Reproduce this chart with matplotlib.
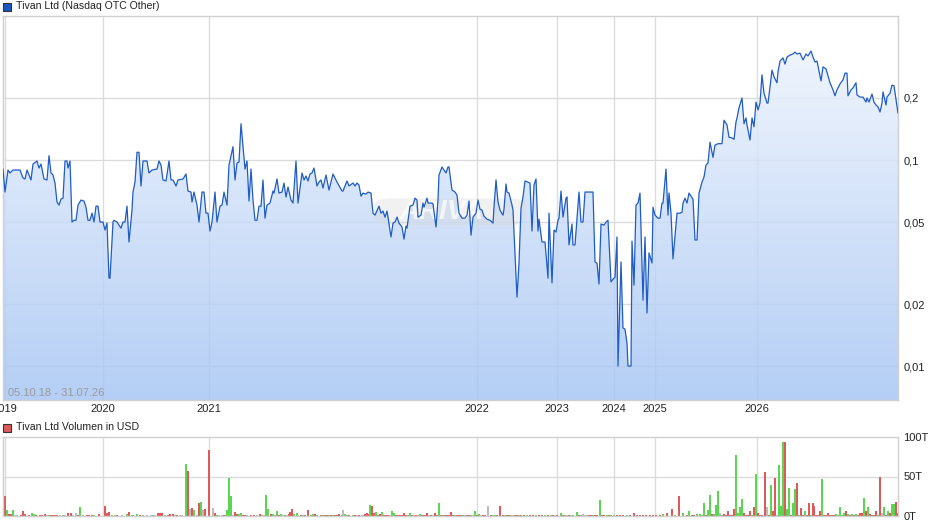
import numpy as np
import matplotlib
matplotlib.use("Agg")
import matplotlib.pyplot as plt
from matplotlib.colors import LinearSegmentedColormap
from matplotlib.patches import Rectangle, FancyBboxPatch

plt.rcParams['font.family'] = ['Liberation Sans', 'DejaVu Sans']

# price series: trading session index and closing price (USD)
session = [3, 5, 8, 10, 13, 20, 23, 25, 27, 31, 33, 37, 39, 41, 44, 47, 49, 51, 53, 55,
           57, 59, 61, 63, 65, 67, 68, 70, 72, 74, 76, 78, 81, 84, 86, 88, 90, 92, 94, 96,
           98, 100, 103, 105, 107, 109, 110, 113, 114, 117, 121, 123, 125, 127, 129, 132, 133, 135, 137, 139,
           141, 143, 147, 149, 152, 157, 159, 161, 163, 166, 169, 171, 173, 176, 178, 183, 186, 188, 191, 192,
           194, 197, 199, 202, 204, 206, 208, 210, 212, 215, 217, 220, 222, 224, 227, 229, 233, 235, 237, 239,
           241, 245, 247, 249, 251, 253, 255, 257, 259, 261, 263, 265, 267, 270, 273, 274, 277, 279, 282, 284,
           286, 288, 291, 293, 296, 298, 302, 304, 306, 308, 310, 312, 314, 317, 319, 321, 323, 326, 329, 333,
           337, 342, 343, 347, 349, 353, 355, 357, 359, 361, 363, 366, 368, 371, 373, 375, 379, 381, 383, 385,
           387, 388, 391, 393, 395, 397, 399, 402, 404, 406, 407, 410, 413, 415, 417, 418, 421, 423, 424, 427,
           428, 432, 433, 436, 438, 439, 442, 444, 446, 448, 449, 452, 455, 457, 459, 462, 465, 467, 469, 471,
           473, 476, 478, 480, 482, 484, 487, 490, 493, 494, 496, 498, 500, 503, 504, 506, 507, 509, 512, 513,
           517, 519, 521, 523, 525, 530, 532, 534, 536, 538, 539, 542, 545, 548, 549, 552, 554, 556, 558, 559,
           561, 563, 566, 567, 569, 572, 573, 575, 579, 581, 583, 585, 593, 595, 597, 599, 601, 604, 606, 608,
           611, 613, 615, 617, 618, 621, 623, 625, 627, 628, 631, 632, 634, 636, 638, 640, 643, 645, 647, 649,
           652, 653, 655, 658, 660, 662, 663, 666, 668, 669, 671, 673, 677, 680, 682, 683, 685, 687, 689, 693,
           695, 697, 699, 702, 704, 706, 708, 710, 713, 715, 718, 722, 724, 727, 729, 732, 734, 736, 737, 739,
           742, 744, 746, 747, 750, 752, 754, 756, 758, 760, 762, 764, 767, 768, 770, 772, 774, 777, 778, 780,
           783, 785, 787, 790, 793, 795, 797, 800, 803, 806, 808, 811, 813, 815, 817, 821, 823, 826, 828, 830,
           833, 835, 837, 840, 843, 845, 847, 848, 851, 853, 856, 857, 860, 863, 866, 867, 869, 872, 874, 876,
           878, 880, 882, 883, 886, 887, 890, 892, 894, 898]
price = [0.0904, 0.0699, 0.0894, 0.0865, 0.0894, 0.0894, 0.0818, 0.0809, 0.0894, 0.0800,
         0.0956, 0.0989, 0.0914, 0.0956, 0.0809, 0.0800, 0.105, 0.0865, 0.0846, 0.0773,
         0.0625, 0.0604, 0.0646, 0.0653, 0.0989, 0.0989, 0.0914, 0.0989, 0.0500, 0.0510,
         0.0510, 0.0604, 0.0639, 0.0632, 0.0590, 0.0510, 0.0510, 0.0552, 0.0500, 0.0597,
         0.0597, 0.0500, 0.0500, 0.0457, 0.0494, 0.0267, 0.0267, 0.0500, 0.0510, 0.0500,
         0.0467, 0.0500, 0.0500, 0.0597, 0.0400, 0.0571, 0.0699, 0.0782, 0.109, 0.109,
         0.0748, 0.0989, 0.0989, 0.0865, 0.0894, 0.0904, 0.0989, 0.0945, 0.0800, 0.0791,
         0.0989, 0.0800, 0.0800, 0.0748, 0.0800, 0.0809, 0.0855, 0.0707, 0.0699, 0.0625,
         0.0699, 0.0604, 0.0500, 0.0699, 0.0699, 0.0552, 0.0552, 0.0452, 0.0500, 0.0699,
         0.0500, 0.0597, 0.0604, 0.0699, 0.0604, 0.0945, 0.116, 0.0800, 0.0967, 0.0978,
         0.150, 0.0904, 0.0989, 0.0632, 0.0904, 0.0639, 0.0510, 0.0510, 0.0597, 0.0597,
         0.0800, 0.0522, 0.0604, 0.0618, 0.0707, 0.0691, 0.0809, 0.0691, 0.0699, 0.0773,
         0.0661, 0.0740, 0.0639, 0.0618, 0.0989, 0.0618, 0.0865, 0.0800, 0.0836, 0.0791,
         0.0855, 0.0865, 0.0914, 0.0748, 0.0782, 0.0800, 0.0731, 0.0846, 0.0715, 0.0855,
         0.0782, 0.0707, 0.0707, 0.0791, 0.0748, 0.0773, 0.0748, 0.0773, 0.0756, 0.0668,
         0.0691, 0.0683, 0.0699, 0.0691, 0.0552, 0.0540, 0.0597, 0.0552, 0.0565, 0.0528,
         0.0565, 0.0528, 0.0423, 0.0494, 0.0500, 0.0528, 0.0494, 0.0473, 0.0413, 0.0478,
         0.0467, 0.0597, 0.0604, 0.0653, 0.0639, 0.0528, 0.0540, 0.0618, 0.0590, 0.0653,
         0.0618, 0.0618, 0.0611, 0.0473, 0.0639, 0.0846, 0.0925, 0.0894, 0.0865, 0.0925,
         0.0925, 0.0715, 0.0699, 0.0676, 0.0552, 0.0522, 0.0522, 0.0540, 0.0632, 0.0432,
         0.0528, 0.0552, 0.0639, 0.0577, 0.0571, 0.0534, 0.0516, 0.0510, 0.0494, 0.0590,
         0.0800, 0.0625, 0.0571, 0.0540, 0.0577, 0.0765, 0.0699, 0.0691, 0.0604, 0.0571,
         0.0216, 0.0316, 0.0584, 0.0661, 0.0791, 0.0773, 0.0452, 0.0756, 0.0809, 0.0452,
         0.0516, 0.0400, 0.0400, 0.0267, 0.0552, 0.0253, 0.0457, 0.0447, 0.0510, 0.0522,
         0.0707, 0.0528, 0.0653, 0.0661, 0.0387, 0.0489, 0.0387, 0.0387, 0.0699, 0.0500,
         0.0500, 0.0699, 0.0699, 0.0320, 0.0316, 0.0250, 0.0489, 0.0483, 0.0500, 0.0510,
         0.0256, 0.0264, 0.0270, 0.0423, 0.0100, 0.0320, 0.0153, 0.0151, 0.0129, 0.0100,
         0.0100, 0.0404, 0.0247, 0.0604, 0.0618, 0.0691, 0.0209, 0.0423, 0.0181, 0.0354,
         0.0316, 0.0590, 0.0540, 0.0522, 0.0522, 0.0618, 0.0618, 0.0904, 0.0540, 0.0691,
         0.0552, 0.0331, 0.0552, 0.0552, 0.0558, 0.0618, 0.0653, 0.0618, 0.0691, 0.0646,
         0.0409, 0.0409, 0.0691, 0.0782, 0.0827, 0.0945, 0.0967, 0.122, 0.103, 0.118,
         0.120, 0.120, 0.156, 0.148, 0.129, 0.128, 0.126, 0.153, 0.160, 0.179,
         0.200, 0.150, 0.160, 0.148, 0.125, 0.160, 0.145, 0.191, 0.175, 0.189,
         0.259, 0.211, 0.189, 0.189, 0.226, 0.273, 0.253, 0.237, 0.267, 0.302,
         0.313, 0.292, 0.316, 0.323, 0.327, 0.334, 0.327, 0.330, 0.306, 0.327,
         0.320, 0.338, 0.316, 0.299, 0.302, 0.242, 0.283, 0.277, 0.256, 0.237,
         0.219, 0.205, 0.219, 0.234, 0.245, 0.264, 0.264, 0.205, 0.219, 0.224,
         0.237, 0.207, 0.202, 0.202, 0.191, 0.200, 0.191, 0.209, 0.191, 0.185,
         0.181, 0.171, 0.189, 0.214, 0.185, 0.202, 0.211, 0.231, 0.229, 0.169]

# axis labels
year_sessions = [5, 103, 209, 477, 557, 614, 655, 757]
year_labels = ['2019', '2020', '2021', '2022', '2023', '2024', '2025', '2026']
price_ticks = [0.01, 0.02, 0.05, 0.1, 0.2]
price_labels = ['0,01', '0,02', '0,05', '0,1', '0,2']
vol_ticks = [0, 50, 100]
vol_labels = ['0T', '50T', '100T']

# volume in thousand USD, split by day direction
green_day = [7, 13, 32, 34, 49, 63, 80, 94, 112, 127, 132, 133, 137, 143, 153, 165, 186, 194, 201, 217,
             226, 227, 229, 231, 239, 241, 262, 266, 268, 273, 277, 281, 285, 294, 297, 303, 311, 313, 317,
             323, 329, 333, 345, 347, 353, 362, 370, 376, 382, 392, 394, 408, 410, 420, 426, 439, 443, 455,
             463, 471, 475, 479, 493, 495, 505, 511, 519, 527, 536, 545, 551, 561, 565, 573, 577, 581, 593,
             600, 607, 611, 614, 627, 663, 675, 683, 689, 697, 700, 702, 704, 708, 710, 714, 716, 718, 722,
             736, 738, 740, 742, 752, 756, 771, 779, 781, 783, 787, 789, 793, 795, 799, 805, 811, 822, 836,
             838, 840, 842, 844, 848, 852, 856, 864, 868, 878, 884, 888, 892, 894]
green_vol = [7.6, 7.6, 4.2, 2, 1.7, 1.3, 11.4, 1.7, 1.7, 2.5, 1.3, 1.7, 2.5, 1, 1.7, 1.7, 65.8, 7.6, 17.7, 1.7,
             1, 7.6, 48.1, 25.3, 2.5, 3.4, 1.7, 26.6, 9.3, 2.5, 6.3, 2.5, 1, 2.5, 3.8, 1, 1.7, 3, 1.3,
             1, 1, 1, 2.1, 1.7, 1.7, 1, 13.5, 4.6, 4.6, 5.9, 3.4, 1, 3.4, 2.1, 1, 16, 1, 1.7,
             1, 1, 5.9, 2.5, 1, 1, 1, 1, 1.7, 1, 1, 1.7, 1, 3.4, 1.7, 1, 4.6, 1, 1,
             20.3, 1, 1, 1.7, 1, 2.5, 1.7, 4.2, 5.9, 2.5, 2.5, 1.7, 16, 7.6, 26.2, 2.1, 13.5, 31.2, 1.7,
             77.6, 3.4, 11, 21.1, 1.7, 52.7, 39.7, 65, 12.7, 93.7, 8.4, 35, 16.9, 33.8, 1.7, 5.9, 1.7, 47.3, 2.5,
             1.7, 11.8, 1.7, 4.2, 2.5, 2.5, 2.5, 22.4, 11, 1.7, 11, 5.9, 15.6, 15.6]
red_day = [5, 9, 11, 21, 23, 25, 29, 36, 40, 42, 45, 51, 53, 55, 57, 68, 71, 78, 87, 89,
           92, 99, 105, 107, 109, 117, 129, 140, 158, 160, 162, 168, 170, 173, 177, 188, 192, 199, 205, 209,
           215, 224, 235, 237, 243, 245, 251, 254, 260, 271, 279, 289, 290, 292, 301, 305, 308, 315,
           321, 325, 327, 331, 335, 337, 339, 342, 349, 355, 359, 365, 367, 368, 372, 374, 378, 380, 384, 386,
           388, 396, 398, 400, 402, 404, 406, 412, 416, 422, 424, 427, 431, 435, 437, 441, 445, 447, 449, 451,
           453, 457, 459, 461, 467, 469, 477, 483, 485, 491, 497, 500, 503, 507, 509, 515, 517, 521, 524, 530,
           533, 539, 542, 548, 553, 557, 563, 569, 579, 589, 591, 595, 597, 602, 604, 609, 617, 620, 623, 630,
           634, 637, 640, 643, 646, 650, 653, 656, 660, 667, 672, 679, 687, 692, 694, 706, 712, 724, 726, 728,
           730, 732, 734, 744, 746, 748, 750, 754, 758, 760, 762, 765, 769, 773, 775, 785, 791, 797, 801, 803,
           807, 809, 813, 814, 816, 818, 820, 824, 826, 828, 830, 832, 834, 846, 850, 854, 858, 860, 862, 866,
           870, 872, 874, 876, 880, 886, 890, 896, 897]
red_vol = [25, 2.5, 3, 1.5, 6.3, 2.5, 1.3, 1.3, 1.3, 1.3, 2, 1.7, 1.3, 1.3, 1.7, 4.2, 3.4, 1.7, 1, 1,
           1.7, 2.5, 12.7, 3.4, 5, 1.3, 5, 1.3, 3.4, 3.4, 3.4, 1.3, 2.5, 2.1, 1.3, 57, 10, 16, 8.9, 83.5,
           3.4, 1.3, 5, 2.5, 1.3, 1, 1.7, 1, 2.1, 2.5, 1.3, 2.5, 5.5, 8.9, 1.7, 1.3, 7.6, 2.1,
           1, 1, 1, 1, 1, 1, 2.1, 1, 1, 1, 1, 3, 3.4, 2.1, 12.2, 3.4, 1, 2.5, 1.7, 1,
           1, 1, 1, 1, 1, 3.4, 1, 1, 1, 1, 1.7, 3.4, 1, 3.4, 1, 1.7, 1.7, 1.7, 1, 4.6,
           1, 1, 1, 1.7, 1, 1, 1, 1, 1, 1, 1, 12.2, 1, 1, 1.7, 1, 1, 1, 1, 1,
           1, 1, 1.7, 1, 1.7, 1, 1, 1, 1.7, 1, 1, 1.7, 1, 1, 1.7, 1, 1, 1, 1, 1,
           3.4, 1, 1, 1, 1, 1, 1, 1, 1.7, 3.4, 8.4, 24.9, 1.7, 1.7, 1, 1, 2.1, 2.5, 1.7, 5.9,
           1.7, 1.7, 8.4, 3.4, 1.7, 1.7, 5.9, 11.8, 3.4, 1.7, 1, 56, 1.7, 6.3, 48.1, 93.7, 1.7, 42.2, 9.7, 1.7,
           1.7, 16.9, 16.9, 12.7, 1.7, 1.7, 5.9, 1.7, 1.7, 3.4, 1.7, 1.7, 1.7, 6.8, 1.7, 1.7, 1.7, 4.2, 3.4, 5.9,
           2.1, 1.7, 1.7, 5.9, 49.8, 1.7, 3.4, 18.1, 4.2]
flat_day = [15, 17, 47, 60, 65, 73, 76, 83, 115, 122, 147, 151, 155, 175, 180, 182, 190, 197, 203, 213,
            219, 222, 233, 247, 257, 264, 275, 283, 287, 298, 343, 357, 363, 390, 414, 418, 429, 433, 465,
            473, 481, 488, 513, 555, 567, 571, 583, 585, 587, 720, 767, 777, 882]
flat_vol = [1, 1, 1, 1, 1, 1.7, 3.4, 1, 1, 1, 1, 1.7, 1, 1.3, 1, 1, 8.4, 1, 7.6, 10,
            1, 1, 1, 1, 1, 1.7, 1, 1, 1.3, 1, 7.2, 1.7, 1.7, 1, 1, 1, 1, 1, 1,
            1, 1, 12.2, 1.7, 1, 1.7, 1.7, 2.5, 1.7, 1.7, 4.2, 11, 1.7, 4.2]

W, H = 940, 526
fig = plt.figure(figsize=(W / 100, H / 100), dpi=100)
fig.patch.set_facecolor('white')

x0, x1 = 3, 898
ymin, ymax = 0.00684, 0.5
grid_c = '#dcdcdc'
text_c = '#222222'

ax = fig.add_axes([x0 / W, (H - 400) / H, (x1 - x0) / W, 384 / H])
ax.set_yscale('log')
ax.set_xlim(x0, x1)
ax.set_ylim(ymin, ymax)

for yv in price_ticks:
    ax.axhline(yv, color=grid_c, lw=1, zorder=0)
for xv in year_sessions:
    ax.axvline(xv, color=grid_c, lw=1, zorder=0)

# gradient fill under the price line (light at top, stronger blue at bottom)
poly = ax.fill_between(session, price, ymin, facecolor='none', edgecolor='none')
cmap = LinearSegmentedColormap.from_list('fillgrad', ['#f3f7fe', '#a4c4f3'])
grad = np.linspace(0, 1, 256).reshape(-1, 1)
im = ax.imshow(grad, cmap=cmap, aspect='auto', extent=[0, 1, 0, 1], origin='upper',
               transform=ax.transAxes, alpha=0.82, zorder=1, interpolation='bilinear')
im.set_clip_path(poly.get_paths()[0], transform=ax.transData)

ax.plot(session, price, color='#1f5cc6', lw=0.9, zorder=3)

# faint watermark
wm = FancyBboxPatch((0.42, 0.46), 0.16, 0.06, boxstyle='round,pad=0.005,rounding_size=0.02',
                    transform=ax.transAxes, facecolor='#d8d8d8', edgecolor='none', alpha=0.35, zorder=2)
ax.add_patch(wm)
ax.text(0.49, 0.49, 'ARIVA', transform=ax.transAxes, ha='center', va='center',
        fontsize=20, fontstyle='italic', fontweight='bold', color='white', alpha=0.7, zorder=2)

ax.text(5 / (x1 - x0), 0.006, '05.10.18 - 31.07.26', transform=ax.transAxes,
        ha='left', va='bottom', fontsize=8, color='#9a9a9a', zorder=4)

ax.set_yticks(price_ticks)
ax.set_yticklabels(price_labels)
ax.yaxis.set_minor_locator(matplotlib.ticker.NullLocator())
ax.yaxis.tick_right()
ax.set_xticks(year_sessions)
ax.set_xticklabels(year_labels)
ax.tick_params(axis='both', length=0, labelsize=8, colors=text_c)
ax.tick_params(axis='y', pad=4)
ax.tick_params(axis='x', pad=3)
for s in ax.spines.values():
    s.set_color('#d0d0d0')
    s.set_linewidth(1)

# volume panel
axv = fig.add_axes([x0 / W, (H - 516) / H, (x1 - x0) / W, 79 / H])
axv.set_xlim(x0, x1)
axv.set_ylim(0, 100)
axv.axhline(50, color=grid_c, lw=1, zorder=0)
for xv in year_sessions:
    axv.axvline(xv, color=grid_c, lw=1, zorder=0)
bar_kw = dict(width=1.3, linewidth=0, antialiased=False, zorder=2)
axv.bar(green_day, green_vol, color='#5cd652', **bar_kw)
axv.bar(red_day, red_vol, color='#dc5a5a', **bar_kw)
axv.bar(flat_day, flat_vol, color='#bbbbbb', **bar_kw)
axv.set_yticks(vol_ticks)
axv.set_yticklabels(vol_labels)
axv.yaxis.tick_right()
axv.set_xticks([])
axv.tick_params(axis='both', length=0, labelsize=8, colors=text_c, pad=4)
for s in axv.spines.values():
    s.set_color('#d0d0d0')
    s.set_linewidth(1)

# panel captions with coloured squares
fig.patches.append(Rectangle((3 / W, 1 - 11 / H), 8 / W, 8 / H, transform=fig.transFigure,
                             facecolor='#1a56c4', edgecolor='#333333', lw=0.8))
fig.text(16 / W, 1 - 6 / H, 'Tivan Ltd (Nasdaq OTC Other)', fontsize=7.6, color=text_c, va='center')
fig.patches.append(Rectangle((3 / W, 1 - 432 / H), 8 / W, 8 / H, transform=fig.transFigure,
                             facecolor='#dc5a5a', edgecolor='#333333', lw=0.8))
fig.text(16 / W, 1 - 427 / H, 'Tivan Ltd Volumen in USD', fontsize=7.6, color=text_c, va='center')

fig.savefig('out.png', dpi=100)
